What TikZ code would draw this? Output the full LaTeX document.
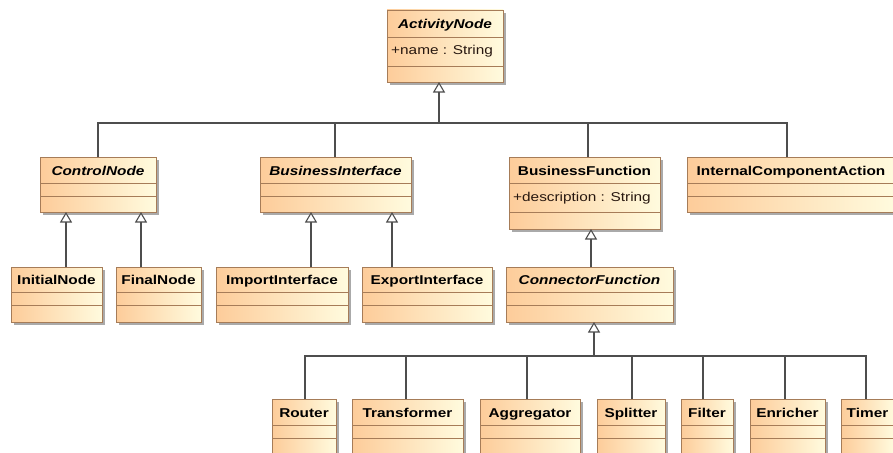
\documentclass[tikz,border=0pt]{standalone}
\usepackage{fontspec}
\setmainfont[FakeStretch=1.2]{Liberation Sans}
\usetikzlibrary{arrows.meta,shadows}

\definecolor{clsleft}{RGB}{253,204,154}
\definecolor{clsright}{RGB}{255,251,222}
\definecolor{clsborder}{RGB}{166,124,88}
\definecolor{wirecol}{RGB}{78,78,78}
\definecolor{shadecol}{RGB}{170,170,170}
\definecolor{attrcol}{RGB}{40,24,16}

\tikzset{
  classbox/.style={draw=clsborder, line width=0.9pt, left color=clsleft, right color=clsright,
    inner sep=0pt, outer sep=0pt, anchor=north west,
    drop shadow={shadow xshift=3pt, shadow yshift=-3pt, fill=shadecol, opacity=1}},
  compsep/.style={draw=clsborder, line width=0.9pt},
  clsname/.style={font=\fontsize{12.8}{15}\selectfont\bfseries, inner sep=0pt, anchor=base},
  absname/.style={font=\fontsize{12.8}{15}\selectfont\bfseries\itshape, inner sep=0pt, anchor=base},
  attrtext/.style={font=\fontsize{12.8}{15}\selectfont, text=attrcol, inner sep=0pt, anchor=base west},
  wire/.style={draw=wirecol, line width=1.1pt},
  gen/.style={wire, -{Triangle[open, length=10.5pt, width=12pt, fill=white]}},
}

% id, left, top, width, name height, attribute height, operation height, name style, name
\newcommand\umlclass[9]{%
  \node[classbox, minimum width=#4pt, minimum height=#5pt+#6pt+#7pt] (#1) at (#2,#3) {};
  \draw[compsep] ([yshift=-#5pt]#1.north west) -- ([yshift=-#5pt]#1.north east);
  \draw[compsep] ([yshift=-#5pt-#6pt]#1.north west) -- ([yshift=-#5pt-#6pt]#1.north east);
  \node[#8] (#1-name) at ([yshift=-#5pt/2-5pt]#1.north) {#9};
}

\begin{document}
\begin{tikzpicture}[x=1pt,y=-1pt]
  \useasboundingbox (0,0) rectangle (893,452);
  \clip (0,0) rectangle (893,452);
  \fill[white] (0,0) rectangle (893,452);

  % root
  \umlclass{act}{387}{10}{116}{27}{29}{16}{absname}{ActivityNode}
  \node[attrtext] (act-attr) at ([xshift=4pt,yshift=-45pt]act.north west) {+name : String};

  % second level
  \umlclass{ctrl}{40}{157}{116}{26}{13}{16}{absname}{ControlNode}
  \umlclass{bif}{260}{157}{151}{26}{13}{16}{absname}{BusinessInterface}
  \umlclass{bfn}{509}{157}{151}{26}{29}{17}{clsname}{BusinessFunction}
  \node[attrtext] (bfn-attr) at ([xshift=4pt,yshift=-44pt]bfn.north west) {+description : String};
  \umlclass{ica}{687}{157}{208}{26}{13}{16}{clsname}{InternalComponentAction}

  % third level
  \umlclass{init}{11}{267}{91}{25.5}{12.5}{17}{clsname}{InitialNode}
  \umlclass{fin}{116}{267}{85}{25.5}{12.5}{17}{clsname}{FinalNode}
  \umlclass{imp}{216}{267}{132}{25.5}{12.5}{17}{clsname}{ImportInterface}
  \umlclass{exp}{362}{267}{130}{25.5}{12.5}{17}{clsname}{ExportInterface}
  \umlclass{cfn}{506}{267}{167}{25.5}{12.5}{17}{absname}{ConnectorFunction}

  % connector functions
  \umlclass{rtr}{272}{399}{64}{26}{13}{17}{clsname}{Router}
  \umlclass{trf}{352}{399}{111}{26}{13}{17}{clsname}{Transformer}
  \umlclass{agg}{480}{399}{100}{26}{13}{17}{clsname}{Aggregator}
  \umlclass{spl}{597}{399}{68}{26}{13}{17}{clsname}{Splitter}
  \umlclass{flt}{681}{399}{52}{26}{13}{17}{clsname}{Filter}
  \umlclass{enr}{750}{399}{75}{26}{13}{17}{clsname}{Enricher}
  \umlclass{tmr}{841}{399}{53}{26}{13}{17}{clsname}{Timer}

  % generalization tree under ActivityNode
  \coordinate (actbus) at (439,123);
  \draw[gen] (actbus) -- (actbus |- act.south);
  \draw[wire] (ctrl.north) |- (actbus);
  \draw[wire] ([xshift=-0.5pt]bif.north) |- (actbus);
  \draw[wire] ([xshift=3.5pt]bfn.north) |- (actbus);
  \draw[wire] ([xshift=-4pt]ica.north) |- (actbus);

  % direct generalizations
  \draw[gen] ([xshift=9.5pt]init.north) -- ([xshift=9.5pt]init.north |- ctrl.south);
  \draw[gen] ([xshift=-17.5pt]fin.north) -- ([xshift=-17.5pt]fin.north |- ctrl.south);
  \draw[gen] ([xshift=29pt]imp.north) -- ([xshift=29pt]imp.north |- bif.south);
  \draw[gen] ([xshift=-35pt]exp.north) -- ([xshift=-35pt]exp.north |- bif.south);
  \draw[gen] ([xshift=1.5pt]cfn.north) -- ([xshift=1.5pt]cfn.north |- bfn.south);

  % generalization tree under ConnectorFunction
  \coordinate (cfbus) at (594,356);
  \draw[gen] (cfbus) -- (cfbus |- cfn.south);
  \draw[wire] ([xshift=1pt]rtr.north) |- (cfbus);
  \draw[wire] ([xshift=-1.5pt]trf.north) |- (cfbus);
  \draw[wire] ([xshift=-3pt]agg.north) |- (cfbus);
  \draw[wire] ([xshift=1pt]spl.north) |- (cfbus);
  \draw[wire] ([xshift=-4pt]flt.north) |- (cfbus);
  \draw[wire] ([xshift=-2.5pt]enr.north) |- (cfbus);
  \draw[wire] ([xshift=-1.5pt]tmr.north) |- (cfbus);
\end{tikzpicture}
\end{document}
